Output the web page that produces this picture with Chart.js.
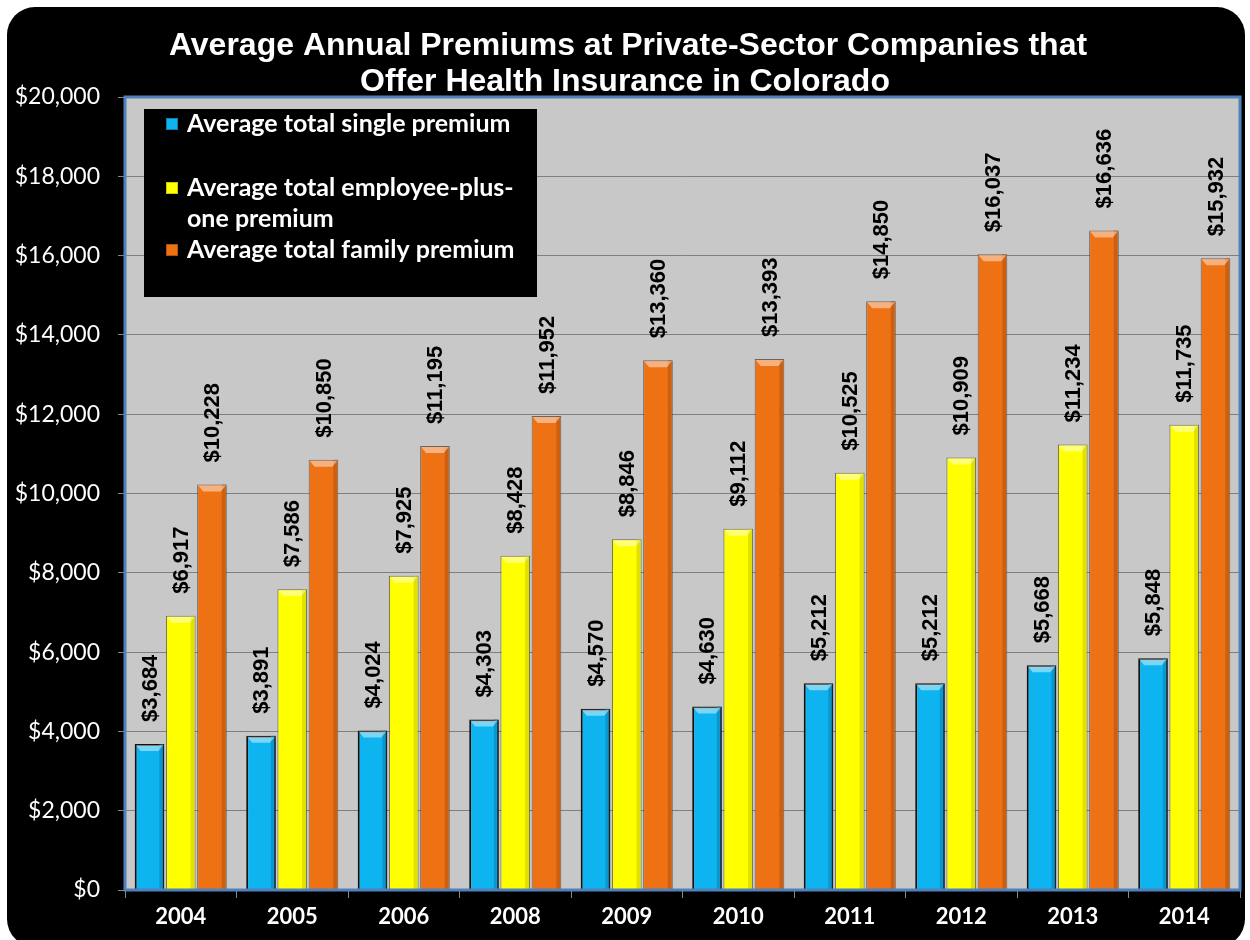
<!DOCTYPE html>
<html>
<head>
<meta charset="utf-8">
<title>Average Annual Premiums - Colorado</title>
<script src="https://cdn.jsdelivr.net/npm/chart.js@4"></script>
<style>
  html, body { margin: 0; padding: 0; background: #fff; }
  #wrap { width: 1250px; height: 940px; }
</style>
</head>
<body>
<div id="wrap"><canvas id="premiumChart" width="1250" height="940"></canvas></div>
<script>
const years = ['2004', '2005', '2006', '2008', '2009', '2010', '2011', '2012', '2013', '2014'];
const singlePremium = [3684, 3891, 4024, 4303, 4570, 4630, 5212, 5212, 5668, 5848];
const plusOnePremium = [6917, 7586, 7925, 8428, 8846, 9112, 10525, 10909, 11234, 11735];
const familyPremium = [10228, 10850, 11195, 11952, 13360, 13393, 14850, 16037, 16636, 15932];
const seriesNames = ['Average total single premium', 'Average total employee-plus-one premium', 'Average total family premium'];
const titleLines = ['Average Annual Premiums at Private-Sector Companies that', 'Offer Health Insurance in Colorado'];

const fills = ['#0DB4F0', '#FFFF00', '#EE7214'];
const edges = ['#0A7FB0', '#C8C800', '#B0520C'];

const money = v => '$' + v.toLocaleString('en-US');

// black rounded card + grey plot area
const backdrop = {
  id: 'backdrop',
  beforeDraw(chart) {
    const c = chart.ctx;
    const a = chart.chartArea;
    c.save();
    c.fillStyle = '#fff';
    c.fillRect(0, 0, chart.width, chart.height);
    c.fillStyle = '#000';
    c.beginPath();
    c.roundRect(7, 7, 1238, 940, 28);
    c.fill();
    c.fillStyle = '#C8C8C8';
    c.fillRect(a.left, a.top, a.right - a.left, a.bottom - a.top);
    c.restore();
  },
  afterDatasetsDraw(chart) {
    const c = chart.ctx;
    const a = chart.chartArea;
    c.save();
    // bevel on each bar
    chart.data.datasets.forEach((ds, i) => {
      chart.getDatasetMeta(i).data.forEach(bar => {
        const l = bar.x - bar.width / 2, r = bar.x + bar.width / 2;
        const t = bar.y, b = bar.base;
        c.fillStyle = edges[i];
        c.globalAlpha = 0.55;
        c.fillRect(r - 5, t, 4, b - t);
        c.globalAlpha = 0.45;
        c.fillStyle = '#fff';
        c.beginPath();
        c.moveTo(l + 1, t + 1);
        c.lineTo(r - 1, t + 1);
        c.lineTo(r - 6, t + 7);
        c.lineTo(l + 6, t + 7);
        c.closePath();
        c.fill();
        c.globalAlpha = 1;
      });
    });
    // plot border
    c.strokeStyle = '#4F81BD';
    c.lineWidth = 3;
    c.strokeRect(a.left, a.top, a.right - a.left, a.bottom - a.top);

    // rotated value labels
    c.fillStyle = '#000';
    c.font = 'bold 22px "Liberation Sans", Arial, sans-serif';
    c.textAlign = 'left';
    c.textBaseline = 'middle';
    chart.data.datasets.forEach((ds, i) => {
      chart.getDatasetMeta(i).data.forEach((bar, j) => {
        c.save();
        c.translate(bar.x + 1, bar.y - 22);
        c.rotate(-Math.PI / 2);
        c.fillText(money(ds.data[j]), 0, 0);
        c.restore();
      });
    });
    c.restore();
  },
  afterDraw(chart) {
    const c = chart.ctx;
    c.save();
    // title
    c.fillStyle = '#fff';
    c.font = 'bold 32px "Liberation Sans", Arial, sans-serif';
    c.textAlign = 'center';
    c.textBaseline = 'alphabetic';
    c.fillText(titleLines[0], 628, 55);
    c.fillText(titleLines[1], 625, 91);

    // legend box
    c.fillStyle = '#000';
    c.fillRect(144, 109, 393, 188);
    c.font = 'bold 25px Lato, "Open Sans", sans-serif';
    c.textAlign = 'left';
    c.textBaseline = 'middle';
    const rows = [
      { y: 124, ds: 0, text: ['Average total single premium'] },
      { y: 188, ds: 1, text: ['Average total employee-plus-', 'one premium'] },
      { y: 250, ds: 2, text: ['Average total family premium'] }
    ];
    rows.forEach(row => {
      c.fillStyle = fills[row.ds];
      c.fillRect(166, row.y - 6, 12, 12);
      c.strokeStyle = edges[row.ds];
      c.lineWidth = 1;
      c.strokeRect(166.5, row.y - 5.5, 11, 11);
      c.fillStyle = '#fff';
      row.text.forEach((t, k) => c.fillText(t, 187, row.y + k * 31));
    });
    c.restore();
  }
};

const ctx = document.getElementById('premiumChart').getContext('2d');
const premiumChart = new Chart(ctx, {
  type: 'bar',
  data: {
    labels: years,
    datasets: [singlePremium, plusOnePremium, familyPremium].map((vals, i) => ({
      label: seriesNames[i],
      data: vals,
      backgroundColor: fills[i],
      borderColor: i === 0 ? '#111' : 'rgba(60,60,60,0.7)',
      borderWidth: i === 0 ? 2 : 1,
      categoryPercentage: 0.84,
      barPercentage: 0.95
    }))
  },
  options: {
    responsive: false,
    animation: false,
    devicePixelRatio: 1,
    layout: { padding: { top: 97, right: 10, left: 0, bottom: 0 } },
    plugins: {
      legend: { display: false },
      title: { display: false },
      tooltip: { enabled: false }
    },
    scales: {
      x: {
        afterFit(scale) { scale.height = 50; },
        grid: {
          offset: true,
          drawOnChartArea: false,
          drawTicks: true,
          tickLength: 8,
          color: '#888',
          tickColor: '#888'
        },
        border: { display: false },
        ticks: {
          color: '#fff',
          padding: 6,
          font: { family: 'Lato, "Open Sans", sans-serif', size: 22, weight: 'bold' }
        }
      },
      y: {
        min: 0,
        max: 20000,
        afterFit(scale) { scale.width = 125; },
        grid: {
          color: '#7F7F7F',
          tickColor: '#888',
          tickLength: 7,
          lineWidth: 1
        },
        border: { display: false },
        ticks: {
          stepSize: 2000,
          color: '#fff',
          padding: 18,
          font: { family: 'Lato, "Open Sans", sans-serif', size: 23 },
          callback: v => money(v)
        }
      }
    }
  },
  plugins: [backdrop]
});
</script>
</body>
</html>
